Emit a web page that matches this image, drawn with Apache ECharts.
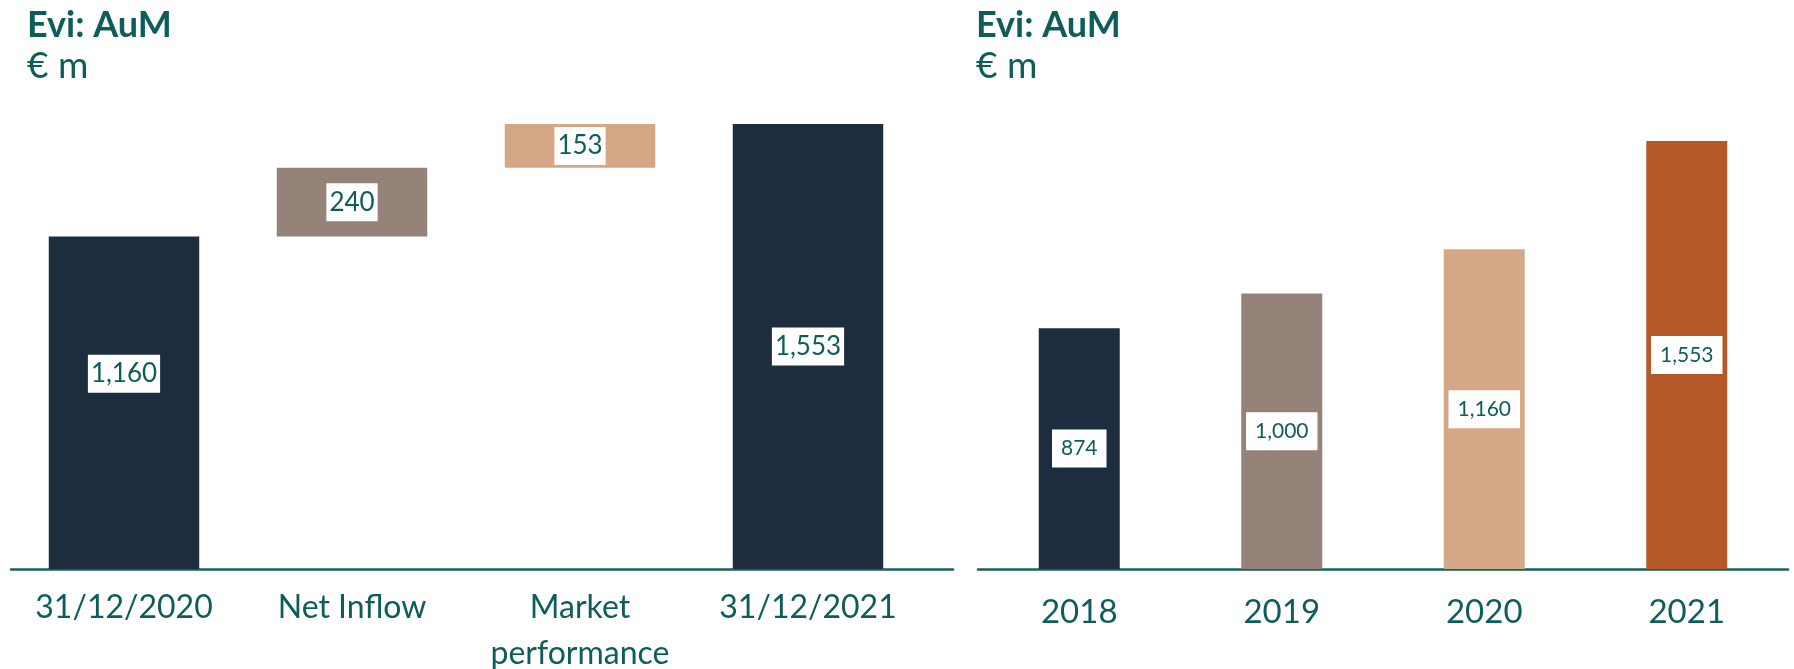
<!DOCTYPE html>
<html>
<head>
<meta charset="utf-8">
<title>Evi: AuM</title>
<script src="https://cdn.jsdelivr.net/npm/echarts@6/dist/echarts.min.js"></script>
<style>
  html, body { margin: 0; padding: 0; background: #fff; }
  #chart { width: 1794px; height: 669px; }
</style>
</head>
<body>
<div id="chart"></div>
<script>
// waterfall (left)
const wfCategories = ['31/12/2020', 'Net Inflow', 'Market\nperformance', '31/12/2021'];
const wfValues = [1160, 240, 153, 1553];
const wfIsTotal = [true, false, false, true];

// yearly AuM (right)
const yearCategories = ['2018', '2019', '2020', '2021'];
const aumValues = [874, 1000, 1160, 1553];

// colours
const teal = '#0e5d5b';
const wfColors = ['#1c2e3d', '#95837a', '#d4a886', '#1c2e3d'];
const yearColors = ['#1c2e3d', '#95837a', '#d4a886', '#b55828'];
const font = 'Lato, "Noto Sans", sans-serif';

// invisible base of the waterfall: running total for deltas, 0 for totals
let running = 0;
const wfBase = wfValues.map((v, i) => {
  if (wfIsTotal[i]) { running = v; return 0; }
  const b = running;
  running += v;
  return b;
});

const fmt = p => Number(p.value).toLocaleString('en-US');

let chart = echarts.init(document.getElementById('chart'), null, { renderer: 'canvas' });

chart.setOption({
  animation: false,
  title: [
    {
      text: 'Evi: AuM', subtext: '€ m',
      left: 22, top: 2, itemGap: 5,
      textStyle: { fontFamily: font, fontSize: 36, fontWeight: 'bold', color: teal },
      subtextStyle: { fontFamily: font, fontSize: 37, color: teal }
    },
    {
      text: 'Evi: AuM', subtext: '€ m',
      left: 971, top: 2, itemGap: 5,
      textStyle: { fontFamily: font, fontSize: 36, fontWeight: 'bold', color: teal },
      subtextStyle: { fontFamily: font, fontSize: 37, color: teal }
    }
  ],
  grid: [
    { left: 10, width: 912, top: 124, height: 445, outerBoundsMode: 'none' },   // waterfall bars
    { left: 11, width: 942, top: 124, height: 445, outerBoundsMode: 'none' },   // waterfall baseline
    { left: 978, width: 810, top: 141, height: 428, outerBoundsMode: 'none' }   // yearly bars
  ],
  xAxis: [
    {
      gridIndex: 0, type: 'category', data: wfCategories,
      axisLine: { show: false }, axisTick: { show: false },
      axisLabel: { interval: 0, fontFamily: font, fontSize: 32, color: teal, margin: 16, lineHeight: 46 }
    },
    {
      gridIndex: 1, type: 'category', data: [''],
      axisLine: { lineStyle: { color: '#16625f', width: 2.5 } },
      axisTick: { show: false }, axisLabel: { show: false }
    },
    {
      gridIndex: 2, type: 'category', data: yearCategories,
      axisLine: { lineStyle: { color: '#16625f', width: 2.5 } },
      axisTick: { show: false },
      axisLabel: { interval: 0, fontFamily: font, fontSize: 33, color: teal, margin: 22, lineHeight: 43 }
    }
  ],
  yAxis: [
    { gridIndex: 0, type: 'value', min: 0, max: 1553, show: false },
    { gridIndex: 1, type: 'value', min: 0, max: 1, show: false },
    { gridIndex: 2, type: 'value', min: 0, max: 1553, show: false }
  ],
  series: [
    {
      name: 'base', type: 'bar', xAxisIndex: 0, yAxisIndex: 0, stack: 'wf',
      barWidth: '66%', silent: true,
      itemStyle: { color: 'transparent' },
      data: wfBase
    },
    {
      name: 'AuM bridge', type: 'bar', xAxisIndex: 0, yAxisIndex: 0, stack: 'wf',
      barWidth: '66%',
      label: {
        show: true, position: 'inside', formatter: fmt,
        fontFamily: font, fontSize: 26, lineHeight: 30, color: teal,
        backgroundColor: '#fff', padding: [4, 3]
      },
      data: wfValues.map((v, i) => ({
        value: v,
        itemStyle: { color: wfColors[i] },
        label: i === 0 ? { offset: [0, -29] } : undefined
      }))
    },
    {
      name: 'AuM', type: 'bar', xAxisIndex: 2, yAxisIndex: 2,
      barWidth: '40%',
      label: {
        show: true, position: 'inside', formatter: fmt,
        fontFamily: font, fontSize: 21, lineHeight: 22, color: teal,
        backgroundColor: '#fff', padding: [8, 9]
      },
      data: aumValues.map((v, i) => ({ value: v, itemStyle: { color: yearColors[i] } }))
    }
  ]
});
</script>
</body>
</html>
